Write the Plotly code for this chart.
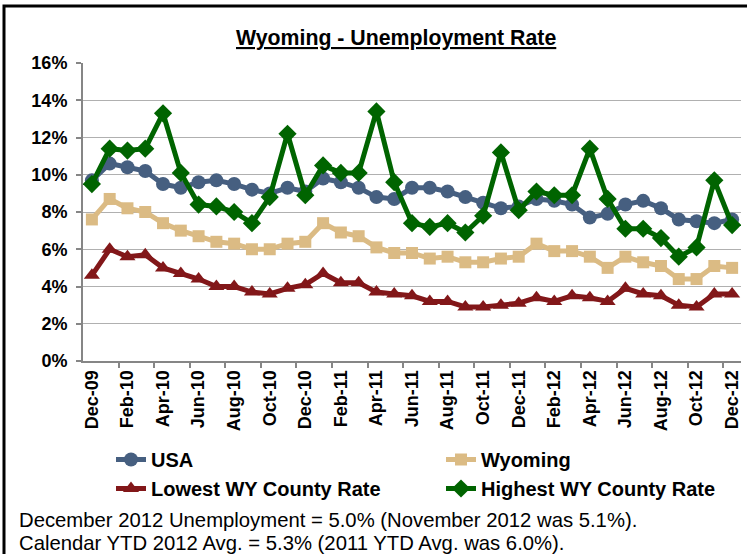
import plotly.graph_objects as go

months = ["Dec-09", "Jan-10", "Feb-10", "Mar-10", "Apr-10", "May-10", "Jun-10", "Jul-10",
          "Aug-10", "Sep-10", "Oct-10", "Nov-10", "Dec-10", "Jan-11", "Feb-11", "Mar-11",
          "Apr-11", "May-11", "Jun-11", "Jul-11", "Aug-11", "Sep-11", "Oct-11", "Nov-11",
          "Dec-11", "Jan-12", "Feb-12", "Mar-12", "Apr-12", "May-12", "Jun-12", "Jul-12",
          "Aug-12", "Sep-12", "Oct-12", "Nov-12", "Dec-12"]

usa = [9.7, 10.6, 10.4, 10.2, 9.5, 9.3, 9.6, 9.7, 9.5, 9.2, 9.0, 9.3, 9.1,
       9.8, 9.6, 9.3, 8.8, 8.7, 9.3, 9.3, 9.1, 8.8, 8.5, 8.2, 8.3,
       8.7, 8.6, 8.4, 7.7, 7.9, 8.4, 8.6, 8.2, 7.6, 7.5, 7.4, 7.6]
wyoming = [7.6, 8.7, 8.2, 8.0, 7.4, 7.0, 6.7, 6.4, 6.3, 6.0, 6.0, 6.3, 6.4,
           7.4, 6.9, 6.7, 6.1, 5.8, 5.8, 5.5, 5.6, 5.3, 5.3, 5.5, 5.6,
           6.3, 5.9, 5.9, 5.6, 5.0, 5.6, 5.3, 5.1, 4.4, 4.4, 5.1, 5.0]
lowest = [4.6, 6.0, 5.6, 5.7, 5.0, 4.7, 4.4, 4.0, 4.0, 3.7, 3.6, 3.9, 4.1,
          4.7, 4.2, 4.2, 3.7, 3.6, 3.5, 3.2, 3.2, 2.9, 2.9, 3.0, 3.1,
          3.4, 3.2, 3.5, 3.4, 3.2, 3.9, 3.6, 3.5, 3.0, 2.9, 3.6, 3.6]
highest = [9.5, 11.4, 11.3, 11.4, 13.3, 10.1, 8.4, 8.3, 8.0, 7.4, 8.8, 12.2, 8.9,
           10.5, 10.1, 10.1, 13.4, 9.6, 7.4, 7.2, 7.4, 6.9, 7.8, 11.2, 8.1,
           9.1, 8.9, 8.9, 11.4, 8.7, 7.1, 7.1, 6.6, 5.6, 6.1, 9.7, 7.3]

y_ticks = [0, 2, 4, 6, 8, 10, 12, 14, 16]
y_tick_labels = [f"{v}%" for v in y_ticks]

series = [
    ("USA", usa, "#465f80", "circle", 14),
    ("Wyoming", wyoming, "#dbbb84", "square", 12),
    ("Lowest WY County Rate", lowest, "#821719", "triangle-up", 14),
    ("Highest WY County Rate", highest, "#006400", "diamond", 14),
]

x = list(range(len(months)))

fig = go.Figure()
for name, vals, color, sym, size in series:
    fig.add_trace(go.Scatter(
        x=x, y=vals, name=name, mode="lines+markers",
        line=dict(color=color, width=5),
        marker=dict(symbol=sym, size=size, color=color),
    ))

W, H = 747, 554
L, R, T, B = 83, 6, 63, 193
pw, ph = W - L - R, H - T - B


def px(xp):
    return (xp - L) / pw


def py(yp):
    return (H - B - yp) / ph


font_b = "Liberation Sans"

fig.update_layout(
    width=W, height=H,
    margin=dict(l=L, r=R, t=T, b=B, pad=0, autoexpand=False),
    paper_bgcolor="white", plot_bgcolor="white",
    showlegend=True,
    legend=dict(
        orientation="h", x=px(111), y=py(440), xanchor="left", yanchor="top",
        entrywidth=285, entrywidthmode="pixels",
        font=dict(family=font_b, size=20, color="black", weight="bold"),
        itemwidth=30, tracegroupgap=0, bgcolor="rgba(0,0,0,0)",
    ),
    xaxis=dict(
        range=[-0.5, len(months) - 0.5],
        tickmode="array", tickvals=x[::2], ticktext=months[::2],
        tickangle=-90, ticks="", showgrid=False, zeroline=False,
        showline=True, linecolor="#868686", linewidth=2,
        tickfont=dict(family=font_b, size=18, color="black", weight="bold"),
        minor=dict(tickmode="array", tickvals=[v + 1.5 for v in x[::2][:-1]],
                   ticks="outside", ticklen=5, tickwidth=2, tickcolor="#868686",
                   showgrid=False),
        fixedrange=True,
    ),
    yaxis=dict(
        range=[0, 16], tickmode="array", tickvals=y_ticks, ticktext=y_tick_labels,
        ticks="outside", ticklen=5, tickwidth=2, tickcolor="#868686",
        ticklabelstandoff=5,
        showgrid=True, gridcolor="#b0b0b0", gridwidth=1, zeroline=False,
        showline=True, linecolor="#868686", linewidth=2,
        tickfont=dict(family=font_b, size=18, color="black", weight="bold"),
        fixedrange=True,
    ),
)

fig.add_annotation(
    text="<b><u>Wyoming - Unemployment Rate</u></b>",
    xref="paper", yref="paper", x=px(396), y=py(38), xanchor="center", yanchor="middle",
    showarrow=False, font=dict(family=font_b, size=21.3, color="black"),
)
fig.add_annotation(
    text="December 2012 Unemployment = 5.0% (November 2012 was 5.1%).",
    xref="paper", yref="paper", x=px(17), y=py(520), xanchor="left", yanchor="middle",
    showarrow=False, font=dict(family=font_b, size=20.3, color="black"),
)
fig.add_annotation(
    text="Calendar YTD 2012 Avg. = 5.3% (2011 YTD Avg. was 6.0%).",
    xref="paper", yref="paper", x=px(17), y=py(543), xanchor="left", yanchor="middle",
    showarrow=False, font=dict(family=font_b, size=20.3, color="black"),
)
fig.add_shape(
    type="rect", xref="paper", yref="paper",
    x0=px(4), y0=py(6), x1=px(W + 20), y1=py(H + 20),
    line=dict(color="black", width=3), fillcolor="rgba(0,0,0,0)", layer="above",
)

fig.write_html(
    "out.html",
    config={"displayModeBar": False},
    post_script="document.body.style.margin='0';document.body.style.padding='0';",
)
